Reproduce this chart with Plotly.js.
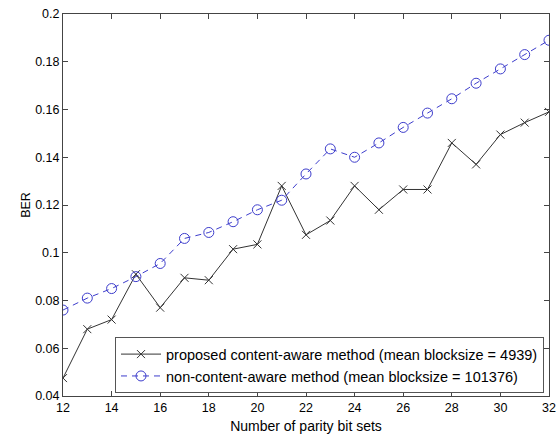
<!DOCTYPE html>
<html>
<head>
<meta charset="utf-8">
<script src="https://cdn.plot.ly/plotly-3.0.1.min.js"></script>
<style>html,body{margin:0;padding:0;background:#fff;}#chart{width:558px;height:435px;}</style>
</head>
<body>
<div id="chart"></div>
<script>
const parityBitSets = [12,13,14,15,16,17,18,19,20,21,22,23,24,25,26,27,28,29,30,31,32];
const proposedBER = [0.0475,0.068,0.072,0.091,0.077,0.0895,0.0885,0.1015,0.1035,0.128,0.1075,0.1135,0.128,0.118,0.1265,0.1265,0.146,0.137,0.1495,0.1545,0.159];
const nonContentBER = [0.076,0.081,0.085,0.090,0.0955,0.106,0.1085,0.113,0.118,0.122,0.133,0.1435,0.140,0.146,0.1525,0.1585,0.1645,0.171,0.177,0.183,0.189];
const xTicks = [12,14,16,18,20,22,24,26,28,30,32];
const yTicks = [0.04,0.06,0.08,0.1,0.12,0.14,0.16,0.18,0.2];
const yTickLabels = ['0.04','0.06','0.08','0.1','0.12','0.14','0.16','0.18','0.2'];

const traces = [
  {
    x: parityBitSets, y: proposedBER, type: 'scatter', mode: 'lines+markers',
    name: 'proposed content-aware method (mean blocksize = 4939)',
    line: {color: '#333333', width: 1},
    marker: {symbol: 'x-thin-open', size: 8, line: {color: '#333333', width: 1}}
  },
  {
    x: parityBitSets, y: nonContentBER, type: 'scatter', mode: 'lines+markers',
    name: 'non-content-aware method (mean blocksize = 101376)',
    line: {color: '#3d3dcc', width: 1, dash: '6px,5px'},
    marker: {symbol: 'circle-open', size: 10, color: '#3d3dcc', line: {color: '#3d3dcc', width: 1}}
  }
];

const axisCommon = {
  showgrid: false, zeroline: false, showline: true, mirror: 'ticks',
  linecolor: '#444', linewidth: 1, ticks: 'inside', ticklen: 5, tickcolor: '#444',
  tickfont: {family: 'Liberation Sans, Arial, sans-serif', size: 12.5, color: '#000'}
};

const layout = {
  width: 558, height: 435,
  margin: {l: 63, r: 9, t: 14, b: 39},
  paper_bgcolor: '#fff', plot_bgcolor: '#fff',
  font: {family: 'Liberation Sans, Arial, sans-serif', size: 12, color: '#000'},
  xaxis: Object.assign({}, axisCommon, {
    range: [12, 32], tickvals: xTicks,
    title: {text: 'Number of parity bit sets', standoff: 7, font: {size: 14}}
  }),
  yaxis: Object.assign({}, axisCommon, {
    range: [0.04, 0.2], tickvals: yTicks, ticktext: yTickLabels,
    title: {text: 'BER', standoff: 1, font: {size: 12.5}}
  }),
  legend: {
    x: 0.107, y: 0.154, xanchor: 'left', yanchor: 'top',
    bgcolor: '#fff', bordercolor: '#555', borderwidth: 1,
    font: {size: 14.5}, tracegroupgap: 0, itemwidth: 40
  },
  showlegend: true
};

Plotly.newPlot('chart', traces, layout, {displayModeBar: false, staticPlot: true});
</script>
</body>
</html>
